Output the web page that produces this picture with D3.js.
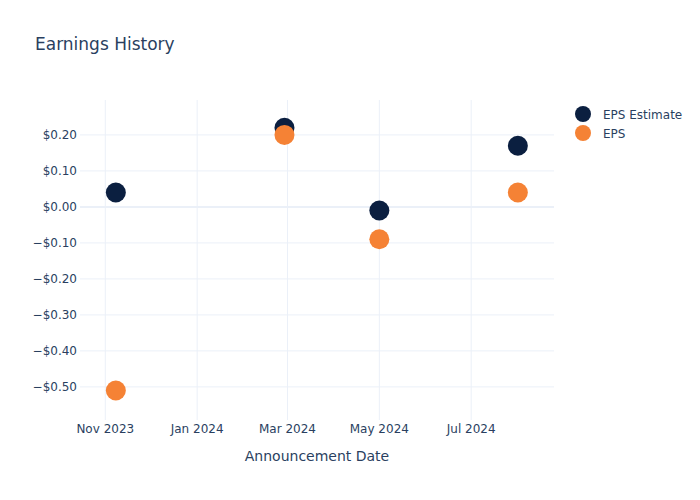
<!DOCTYPE html>
<html>
<head>
<meta charset="utf-8">
<script src="https://cdn.jsdelivr.net/npm/d3@7"></script>
<style>
  body { margin: 0; background: #fff; }
  svg { font-family: "DejaVu Sans", sans-serif; }
</style>
</head>
<body>
<svg width="700" height="500"></svg>
<script>
// data
const dates = ["2023-11-08", "2024-02-28", "2024-05-01", "2024-08-01"];
const epsEstimate = [0.04, 0.22, -0.01, 0.17];
const eps = [-0.51, 0.20, -0.09, 0.04];
const yTicks = [-0.5, -0.4, -0.3, -0.2, -0.1, 0, 0.1, 0.2];
const xTicks = ["2023-11-01", "2024-01-01", "2024-03-01", "2024-05-01", "2024-07-01"];
const seriesNames = ["EPS Estimate", "EPS"];
const colors = ["#0b1f40", "#f58235"];

const parse = d3.utcParse("%Y-%m-%d");
const svg = d3.select("svg");
const textCol = "#2a3f5f";
const gridCol = "#ebf0f8";

const x = d3.scaleUtc()
  .domain([new Date(Date.UTC(2023, 9, 15, 5)), new Date(Date.UTC(2024, 7, 25))])
  .range([80, 554]);
const y = d3.scaleLinear()
  .domain([-0.592, 0.297])
  .range([420, 100]);

// grid
svg.append("g").selectAll("line")
  .data(xTicks)
  .join("line")
  .attr("x1", d => x(parse(d))).attr("x2", d => x(parse(d)))
  .attr("y1", 100).attr("y2", 420)
  .attr("stroke", gridCol).attr("stroke-width", 1);

svg.append("g").selectAll("line")
  .data(yTicks)
  .join("line")
  .attr("x1", 80).attr("x2", 554)
  .attr("y1", d => y(d)).attr("y2", d => y(d))
  .attr("stroke", gridCol)
  .attr("stroke-width", d => d === 0 ? 2 : 1);

// axes labels
const fmt = v => (v < 0 ? "\u2212" : "") + "$" + Math.abs(v).toFixed(2);
svg.append("g").selectAll("text")
  .data(yTicks)
  .join("text")
  .attr("x", 77).attr("y", d => y(d) + 4.5)
  .attr("text-anchor", "end")
  .attr("font-size", 12)
  .attr("fill", textCol)
  .text(fmt);

const xfmt = d3.utcFormat("%b %Y");
svg.append("g").selectAll("text")
  .data(xTicks)
  .join("text")
  .attr("x", d => x(parse(d))).attr("y", 433)
  .attr("text-anchor", "middle")
  .attr("font-size", 12)
  .attr("fill", textCol)
  .text(d => xfmt(parse(d)));

svg.append("text")
  .attr("x", 317).attr("y", 461)
  .attr("text-anchor", "middle")
  .attr("font-size", 14)
  .attr("fill", textCol)
  .text("Announcement Date");

svg.append("text")
  .attr("x", 35).attr("y", 50)
  .attr("font-size", 17)
  .attr("fill", textCol)
  .text("Earnings History");

// points
[epsEstimate, eps].forEach((vals, i) => {
  svg.append("g").selectAll("circle")
    .data(vals)
    .join("circle")
    .attr("cx", (d, j) => x(parse(dates[j])))
    .attr("cy", d => y(d))
    .attr("r", 10)
    .attr("fill", colors[i]);
});

// legend
const leg = svg.append("g").selectAll("g")
  .data(seriesNames)
  .join("g")
  .attr("transform", (d, i) => `translate(583,${114 + i * 19})`);
leg.append("circle").attr("r", 8).attr("fill", (d, i) => colors[i]);
leg.append("text")
  .attr("x", 20).attr("y", 4.5)
  .attr("font-size", 12)
  .attr("fill", textCol)
  .text(d => d);
</script>
</body>
</html>
